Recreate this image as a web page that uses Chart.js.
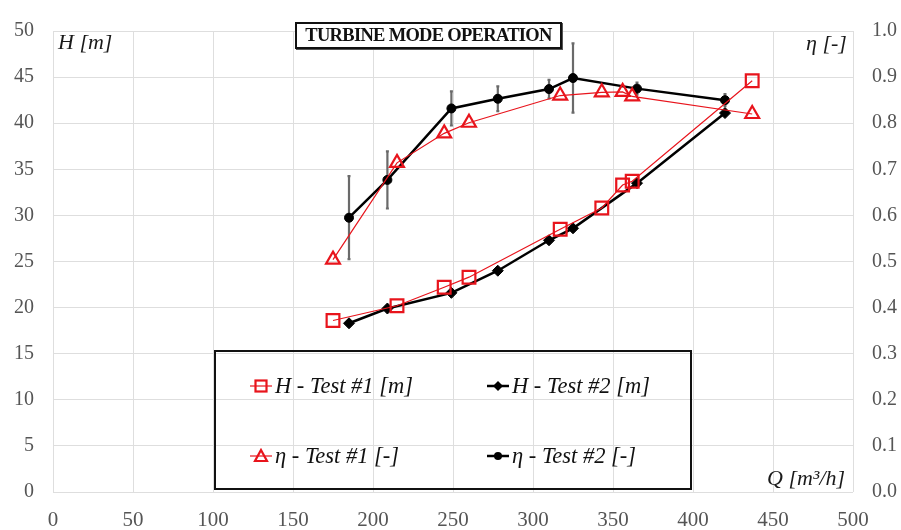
<!DOCTYPE html>
<html>
<head>
<meta charset="utf-8">
<script src="https://cdn.jsdelivr.net/npm/chart.js@4.4.1/dist/chart.umd.min.js"></script>
<style>
    body { margin: 0; background: #fff; }
    #wrap { position: relative; width: 901px; height: 530px; overflow: hidden; font-family: "Liberation Serif", "DejaVu Serif", serif; }
    #chart { position: absolute; left: 0; top: 0; }
    .axis-title { position: absolute; font-style: italic; font-size: 22px; color: #1a1a1a; white-space: nowrap; line-height: 1; }
    #title { position: absolute; left: 295px; top: 22px; width: 263px; height: 23px; border: 2px solid #111; box-shadow: 1px 1px 0 #555; background: #fff;
             font-weight: bold; font-size: 18.5px; text-align: center; line-height: 23px; letter-spacing: -0.7px; color: #111; }
    #legend { position: absolute; left: 214px; top: 350px; width: 474px; height: 136px; border: 2px solid #111; }
    .item { position: absolute; display: flex; align-items: center; font-style: italic; font-size: 22.5px; color: #111; white-space: nowrap; height: 24px; }
    .item svg { margin-right: 3px; }
</style>
</head>
<body>
<div id="wrap">
    <canvas id="chart" width="901" height="530"></canvas>
    <div id="title">TURBINE MODE OPERATION</div>
    <div class="axis-title" style="left:58px; top:31px;">H [m]</div>
    <div class="axis-title" style="left:806px; top:32px;">η [-]</div>
    <div class="axis-title" style="left:767px; top:467px;">Q [m³/h]</div>
    <div id="legend"></div>
</div>
<script>
// --- data (Q in m3/h, H in m, efficiency 0..1) ---
const qTest1 = [175, 215, 244.5, 260, 317, 343, 356, 362, 437];
const hTest1 = [18.6, 20.2, 22.2, 23.3, 28.5, 30.8, 33.3, 33.7, 44.6];
const etaTest1 = [0.504, 0.714, 0.778, 0.801, 0.860, 0.867, 0.868, 0.858, 0.820];

const qTest2 = [185, 209, 249, 278, 310, 325, 365, 420];
const hTest2 = [18.3, 19.9, 21.6, 24.0, 27.3, 28.6, 33.5, 41.1];
const etaTest2 = [0.595, 0.677, 0.832, 0.853, 0.874, 0.898, 0.875, 0.850];
const etaTest2Err = [0.090, 0.062, 0.037, 0.027, 0.020, 0.075, 0.013, 0.013];

const seriesLabels = ['H - Test #1 [m]', 'H - Test #2 [m]', 'η - Test #1 [-]', 'η - Test #2 [-]'];

const RED = '#e8141c';
const BLACK = '#000000';
const GRID = '#dedede';
const TICK = '#555555';

const pts = (xs, ys) => xs.map((x, i) => ({ x, y: ys[i] }));

// vertical error bars for the second efficiency run
const errorBars = {
    id: 'errorBars',
    beforeDatasetsDraw(chart) {
        const { ctx, scales: { x, y1 } } = chart;
        ctx.save();
        ctx.strokeStyle = '#6a6a6a';
        ctx.lineWidth = 2.2;
        qTest2.forEach((q, i) => {
            const px = x.getPixelForValue(q);
            const top = y1.getPixelForValue(etaTest2[i] + etaTest2Err[i]);
            const bot = y1.getPixelForValue(etaTest2[i] - etaTest2Err[i]);
            ctx.beginPath();
            ctx.moveTo(px, top); ctx.lineTo(px, bot);
            ctx.moveTo(px - 1.5, top); ctx.lineTo(px + 1.5, top);
            ctx.moveTo(px - 1.5, bot); ctx.lineTo(px + 1.5, bot);
            ctx.stroke();
        });
        ctx.restore();
    }
};

const datasets = [
    { label: seriesLabels[0], data: pts(qTest1, hTest1), yAxisID: 'y', borderColor: RED, borderWidth: 1.2,
      pointStyle: 'rect', pointRadius: 9, pointBorderWidth: 2.2, pointBorderColor: RED, pointBackgroundColor: 'rgba(255,255,255,0)' },
    { label: seriesLabels[2], data: pts(qTest1, etaTest1), yAxisID: 'y1', borderColor: RED, borderWidth: 1.2,
      pointStyle: 'triangle', pointRadius: 8, pointBorderWidth: 2.2, pointBorderColor: RED, pointBackgroundColor: 'rgba(255,255,255,0)' },
    { label: seriesLabels[1], data: pts(qTest2, hTest2), yAxisID: 'y', borderColor: BLACK, borderWidth: 2.5,
      pointStyle: 'rectRot', pointRadius: 5.5, pointBorderWidth: 1, pointBorderColor: BLACK, pointBackgroundColor: BLACK },
    { label: seriesLabels[3], data: pts(qTest2, etaTest2), yAxisID: 'y1', borderColor: BLACK, borderWidth: 2.5,
      pointStyle: 'circle', pointRadius: 4.5, pointBorderWidth: 1, pointBorderColor: BLACK, pointBackgroundColor: BLACK }
];
datasets.forEach(d => { d.showLine = true; d.tension = 0; });

const tickFont = { family: '"Liberation Serif", serif', size: 20 };

new Chart(document.getElementById('chart'), {
    type: 'scatter',
    data: { datasets },
    options: {
        responsive: false,
        animation: false,
        devicePixelRatio: 1,
        layout: { padding: { top: 20, left: 0, right: 0, bottom: 0 } },
        plugins: { legend: { display: false }, tooltip: { enabled: false } },
        scales: {
            x: {
                type: 'linear', min: 0, max: 500,
                ticks: { stepSize: 50, padding: 16, color: TICK, font: { ...tickFont, size: 21 }, maxRotation: 0 },
                grid: { color: GRID, drawTicks: false },
                border: { display: false },
                afterFit: s => { s.height = 38; }
            },
            y: {
                position: 'left', min: 0, max: 50,
                ticks: { stepSize: 5, padding: 19, color: TICK, font: tickFont },
                grid: { color: GRID, drawTicks: false },
                border: { display: false },
                afterFit: s => { s.width = 53; }
            },
            y1: {
                position: 'right', min: 0, max: 1,
                ticks: { stepSize: 0.1, padding: 19, color: TICK, font: tickFont, callback: v => v.toFixed(1) },
                grid: { display: false, drawTicks: false },
                border: { display: false },
                afterFit: s => { s.width = 48; }
            }
        }
    },
    plugins: [errorBars]
});

// legend box, two columns by two rows
function markerSvg(ds) {
    const c = ds.borderColor, w = ds.borderWidth;
    let shape = '';
    if (ds.pointStyle === 'rect') shape = `<rect x="5.5" y="2.5" width="11" height="11" fill="none" stroke="${c}" stroke-width="2.2"/>`;
    else if (ds.pointStyle === 'triangle') shape = `<polygon points="11,2 17,13 5,13" fill="none" stroke="${c}" stroke-width="2.2"/>`;
    else if (ds.pointStyle === 'rectRot') shape = `<polygon points="11,3 16,8 11,13 6,8" fill="${c}"/>`;
    else shape = `<circle cx="11" cy="8" r="4" fill="${c}"/>`;
    return `<svg width="22" height="16"><line x1="0" y1="8" x2="22" y2="8" stroke="${c}" stroke-width="${w}"/>${shape}</svg>`;
}
const legendPos = { [seriesLabels[0]]: [34, 22], [seriesLabels[1]]: [271, 22], [seriesLabels[2]]: [34, 92], [seriesLabels[3]]: [271, 92] };
const legend = document.getElementById('legend');
datasets.forEach(ds => {
    const [left, top] = legendPos[ds.label];
    const el = document.createElement('div');
    el.className = 'item';
    el.style.left = left + 'px';
    el.style.top = top + 'px';
    el.innerHTML = markerSvg(ds) + `<span>${ds.label}</span>`;
    legend.appendChild(el);
});
</script>
</body>
</html>
